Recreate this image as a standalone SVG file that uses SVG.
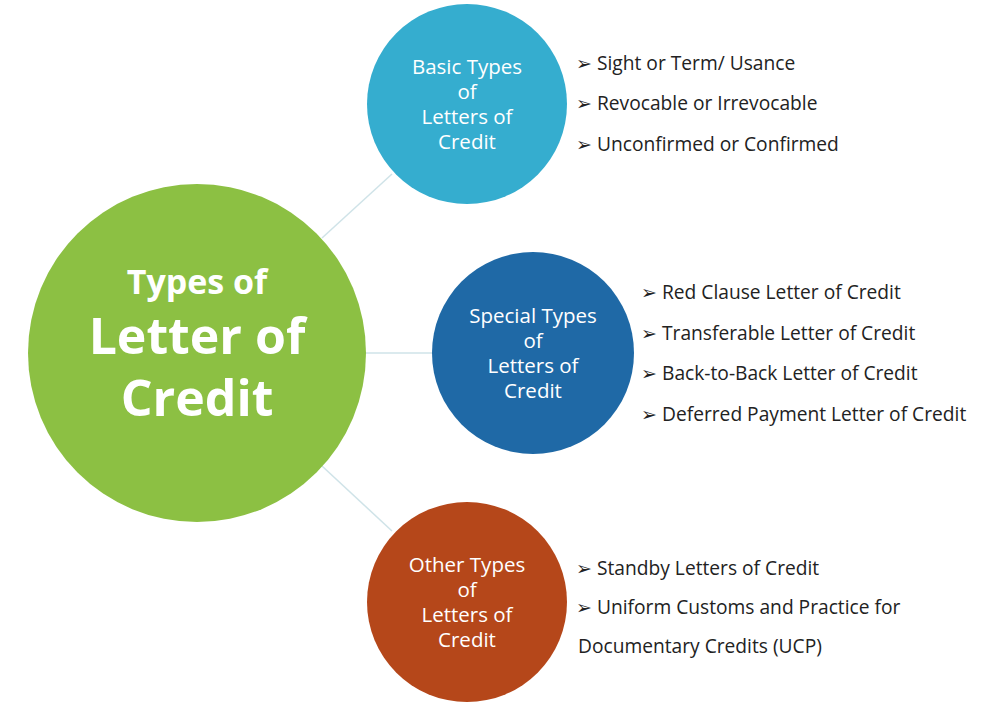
<svg xmlns="http://www.w3.org/2000/svg" width="1000" height="705" viewBox="0 0 1000 705">
<style>
.ct{font-family:"Open Sans","Liberation Sans",sans-serif;fill:#fff;text-anchor:middle;font-size:20.5px}
.big{font-family:"Open Sans","Liberation Sans",sans-serif;fill:#fff;text-anchor:middle;font-weight:bold}
.b{font-family:"Open Sans","Liberation Sans",sans-serif;fill:#222;font-size:19.2px}
.ar{font-family:"DejaVu Sans",sans-serif;font-size:19px;fill:#222}
</style>
<rect width="1000" height="705" fill="#fff"/>
<g id="connectors" stroke="#cfe3e8" stroke-width="1.5">
<line x1="322" y1="238" x2="392" y2="174"/>
<line x1="366" y1="353" x2="432" y2="353"/>
<line x1="322" y1="466" x2="392" y2="531"/>
</g>
<g id="main">
<circle cx="197" cy="353" r="169" fill="#8cc043"/>
<text class="big" x="197" y="294" font-size="34">Types of</text>
<text class="big" x="197" y="354" font-size="50">Letter of</text>
<text class="big" x="197" y="416" font-size="50">Credit</text>
</g>
<g id="basic">
<circle cx="467" cy="104" r="100" fill="#35adcf"/>
<text class="ct" x="467" y="74">Basic Types</text>
<text class="ct" x="467" y="99">of</text>
<text class="ct" x="467" y="124">Letters of</text>
<text class="ct" x="467" y="149">Credit</text>
</g>
<g id="special">
<circle cx="533" cy="353" r="101" fill="#1f69a6"/>
<text class="ct" x="533" y="323">Special Types</text>
<text class="ct" x="533" y="348">of</text>
<text class="ct" x="533" y="373">Letters of</text>
<text class="ct" x="533" y="398">Credit</text>
</g>
<g id="other">
<circle cx="467" cy="602" r="100" fill="#b5471a"/>
<text class="ct" x="467" y="572">Other Types</text>
<text class="ct" x="467" y="597">of</text>
<text class="ct" x="467" y="622">Letters of</text>
<text class="ct" x="467" y="647">Credit</text>
</g>
<g id="basic-list">
<text class="ar" x="576" y="70">➢</text><text class="b" x="597" y="70">Sight or Term/ Usance</text>
<text class="ar" x="576" y="110">➢</text><text class="b" x="597" y="110">Revocable or Irrevocable</text>
<text class="ar" x="576" y="151">➢</text><text class="b" x="597" y="151">Unconfirmed or Confirmed</text>
</g>
<g id="special-list">
<text class="ar" x="641" y="299">➢</text><text class="b" x="662" y="299">Red Clause Letter of Credit</text>
<text class="ar" x="641" y="340">➢</text><text class="b" x="662" y="340">Transferable Letter of Credit</text>
<text class="ar" x="641" y="380">➢</text><text class="b" x="662" y="380">Back-to-Back Letter of Credit</text>
<text class="ar" x="641" y="421">➢</text><text class="b" x="662" y="421">Deferred Payment Letter of Credit</text>
</g>
<g id="other-list">
<text class="ar" x="576" y="575">➢</text><text class="b" x="597" y="575">Standby Letters of Credit</text>
<text class="ar" x="576" y="614">➢</text><text class="b" x="597" y="614">Uniform Customs and Practice for</text>
<text class="b" x="578" y="653">Documentary Credits (UCP)</text>
</g>
</svg>
